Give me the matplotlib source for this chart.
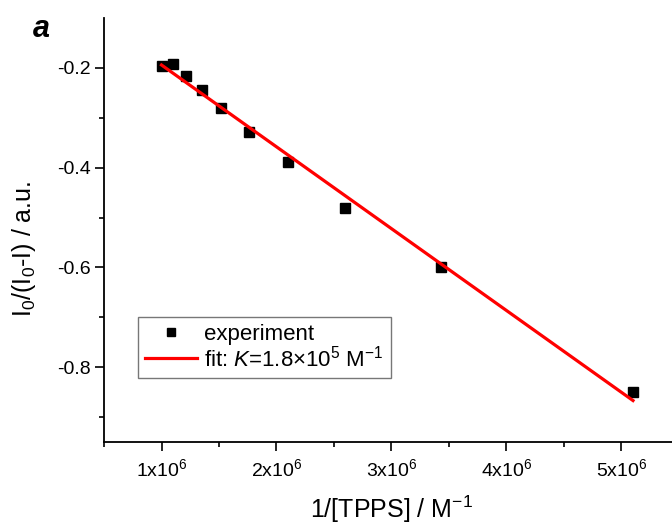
import numpy as np
import matplotlib
matplotlib.use("Agg")
import matplotlib.pyplot as plt
from matplotlib.ticker import FixedLocator, MultipleLocator

plt.rcParams['font.family'] = ['Liberation Sans', 'DejaVu Sans']
plt.rcParams['mathtext.fontset'] = 'custom'
plt.rcParams['mathtext.rm'] = 'Liberation Sans'
plt.rcParams['mathtext.it'] = 'Liberation Sans:italic'
plt.rcParams['mathtext.bf'] = 'Liberation Sans:bold'

# 1/[TPPS] (M^-1) and I0/(I0-I)
inv_conc = [1.00e6, 1.096e6, 1.21e6, 1.35e6, 1.52e6, 1.76e6, 2.10e6, 2.60e6, 3.43e6, 5.10e6]
ratio = [-0.196, -0.192, -0.216, -0.244, -0.280, -0.328, -0.388, -0.480, -0.600, -0.850]

x_ticks = [1e6, 2e6, 3e6, 4e6, 5e6]
x_tick_labels = [r"1x10$^{6}$", r"2x10$^{6}$", r"3x10$^{6}$", r"4x10$^{6}$", r"5x10$^{6}$"]
y_ticks = [-0.8, -0.6, -0.4, -0.2]

fig = plt.figure(figsize=(6.72, 5.28), dpi=100)
ax = fig.add_axes([104 / 672, 86 / 528, 575 / 672, 424 / 528])

x = np.array(inv_conc)
y = np.array(ratio)
slope, intercept = np.polyfit(x, y, 1)
xf = np.array([x.min(), x.max()])

ax.plot(x, y, linestyle='none', marker='s', markersize=7.5, color='black',
        label='experiment', zorder=3)
ax.plot(xf, slope * xf + intercept, color='#ff0000', linewidth=2.3,
        label=r'fit: $K$=1.8$\times$10$^{5}$ M$^{-1}$', zorder=4)

ax.set_xlim(0.5e6, 5.5e6)
ax.set_ylim(-0.95, -0.1)

ax.xaxis.set_major_locator(FixedLocator(x_ticks))
ax.set_xticklabels(x_tick_labels)
ax.xaxis.set_minor_locator(MultipleLocator(0.5e6))
ax.yaxis.set_major_locator(FixedLocator(y_ticks))
ax.set_yticklabels([f"{v:.1f}" for v in y_ticks])
ax.yaxis.set_minor_locator(FixedLocator([-0.9, -0.7, -0.5, -0.3]))

for side in ('top', 'right'):
    ax.spines[side].set_visible(False)
for side in ('left', 'bottom'):
    ax.spines[side].set_linewidth(1.3)

ax.tick_params(which='major', direction='out', length=6.5, width=1.2, labelsize=14)
ax.tick_params(which='minor', direction='out', length=3.6, width=1.2)
ax.tick_params(axis='x', pad=5)
ax.tick_params(axis='y', pad=3)

ax.set_xlabel(r"1/[TPPS] / M$^{-1}$", fontsize=18)
ax.xaxis.set_label_coords(0.5, -0.122)
ax.set_ylabel(r"I$_{0}$/(I$_{0}$-I) / a.u.", fontsize=18)
ax.yaxis.set_label_coords(-0.114, 0.455)

fig.text(33 / 672, 1 - 29 / 528, 'a', fontsize=22, fontweight='bold',
         fontstyle='italic', va='center', ha='left')

leg = ax.legend(loc='upper left', bbox_to_anchor=(34 / 575, 1 - 299 / 424),
                fontsize=16, frameon=True, fancybox=False, edgecolor='#555555',
                borderpad=0.32, handlelength=2.35, handletextpad=0.3,
                labelspacing=0.0, borderaxespad=0, markerscale=0.75)
leg.get_frame().set_linewidth(1.0)

fig.savefig('out.png', dpi=100)
